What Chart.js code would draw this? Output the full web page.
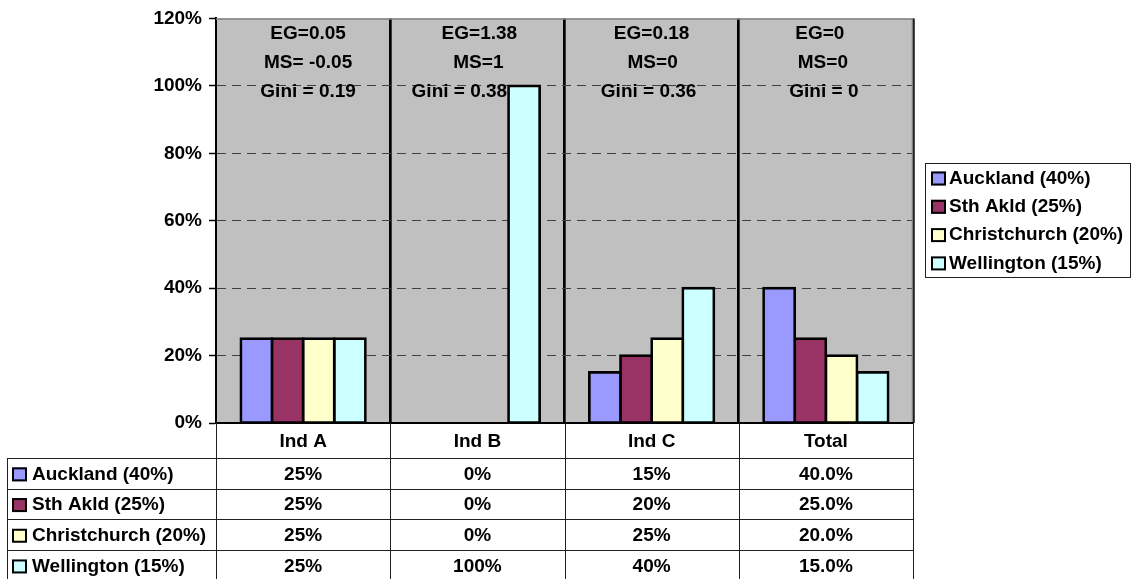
<!DOCTYPE html>
<html>
<head>
<meta charset="utf-8">
<script src="https://cdn.jsdelivr.net/npm/chart.js@4/dist/chart.umd.min.js"></script>
<style>
  html, body { margin: 0; padding: 0; background: #ffffff; }
  #wrap { width: 1132px; height: 579px; position: relative; }
</style>
</head>
<body>
<div id="wrap"><canvas id="c" width="1132" height="579"></canvas></div>
<script>
// Regional shares of employment by industry (percent)
const categories = ['Ind A', 'Ind B', 'Ind C', 'Total'];
const seriesNames = ['Auckland (40%)', 'Sth Akld (25%)', 'Christchurch (20%)', 'Wellington (15%)'];
const auckland = [25, 0, 15, 40];
const sthAkld = [25, 0, 20, 25];
const christchurch = [25, 0, 25, 20];
const wellington = [25, 100, 40, 15];

// Concentration measures shown above each industry
const egValues = [0.05, 1.38, 0.18, 0];
const msValues = [-0.05, 1, 0, 0];
const giniValues = [0.19, 0.38, 0.36, 0];

// Y-axis tick values (percent)
const yTicks = [0, 20, 40, 60, 80, 100, 120];

// Decimals used in the data table for each column
const tableDecimals = [0, 0, 0, 1];

const seriesColors = ['#9999FF', '#993366', '#FFFFCC', '#CCFFFF'];
const FONT = 'bold 19px "Liberation Sans", Arial, sans-serif';

function fmtEG(v) { return 'EG=' + v; }
function fmtMS(v) { return v < 0 ? 'MS= ' + v : 'MS=' + v; }
function fmtGini(v) { return 'Gini = ' + v; }

// small horizontal nudges of the text lines inside each category
const annoShift = [
  [5, 5, 5],
  [2, 1, -18],
  [0, 1, -3],
  [-6, -3, -2]
];

const seriesData = [auckland, sthAkld, christchurch, wellington];

const sheetPlugin = {
  id: 'sheet',
  beforeDraw(chart) {
    const { ctx, chartArea: a } = chart;
    ctx.save();
    ctx.fillStyle = '#C0C0C0';
    ctx.fillRect(a.left, a.top, a.right - a.left, a.bottom - a.top);
    ctx.restore();
  },
  afterDraw(chart) {
    const { ctx, chartArea: a } = chart;
    const xs = chart.scales.x;
    const n = categories.length;
    const colW = (a.right - a.left) / n;
    ctx.save();

    // plot frame: top and right in grey
    ctx.strokeStyle = '#808080';
    ctx.lineWidth = 1.5;
    ctx.beginPath();
    ctx.moveTo(a.left, a.top + 0.5);
    ctx.lineTo(a.right, a.top + 0.5);
    ctx.moveTo(a.right - 0.5, a.top);
    ctx.lineTo(a.right - 0.5, a.bottom);
    ctx.stroke();

    // category axis line
    ctx.strokeStyle = '#000';
    ctx.lineWidth = 2;
    ctx.beginPath();
    ctx.moveTo(a.left - 1, a.bottom);
    ctx.lineTo(a.right, a.bottom);
    ctx.stroke();

    // measures above each category
    ctx.font = FONT;
    ctx.fillStyle = '#000';
    ctx.textAlign = 'center';
    ctx.textBaseline = 'middle';
    const lineYs = [34, 62.5, 91.5];
    for (let i = 0; i < n; i++) {
      const cx = xs.getPixelForValue(i);
      const lines = [fmtEG(egValues[i]), fmtMS(msValues[i]), fmtGini(giniValues[i])];
      lines.forEach((t, k) => ctx.fillText(t, cx + annoShift[i][k], lineYs[k]));
    }

    // data table
    const headTop = a.bottom;
    const headBottom = 458;
    const rowH = 30.7;
    const tableLeft = 7;
    const rows = chart.data.datasets.length;
    ctx.strokeStyle = '#202020';
    ctx.lineWidth = 1;
    ctx.beginPath();
    // horizontal lines
    for (let r = 0; r <= rows; r++) {
      const y = Math.round(headBottom + r * rowH) + 0.5;
      ctx.moveTo(tableLeft, y);
      ctx.lineTo(a.right, y);
    }
    // vertical lines through header and body
    for (let i = 0; i <= n; i++) {
      const x = Math.round(a.left + i * colW) + 0.5;
      ctx.moveTo(x, headTop);
      ctx.lineTo(x, headBottom + rows * rowH);
    }
    ctx.moveTo(tableLeft + 0.5, headBottom);
    ctx.lineTo(tableLeft + 0.5, headBottom + rows * rowH);
    ctx.stroke();

    // header labels
    ctx.textAlign = 'center';
    for (let i = 0; i < n; i++) {
      ctx.fillText(chart.data.labels[i], xs.getPixelForValue(i), (headTop + headBottom) / 2 + 1);
    }

    // body rows
    chart.data.datasets.forEach((ds, r) => {
      const cy = headBottom + r * rowH + rowH / 2 + 1;
      // legend key
      drawKey(ctx, 12, cy - 7, ds.backgroundColor);
      ctx.textAlign = 'left';
      ctx.fillStyle = '#000';
      ctx.fillText(ds.label, 32, cy);
      ctx.textAlign = 'center';
      ds.data.forEach((v, i) => {
        ctx.fillText(v.toFixed(tableDecimals[i]) + '%', xs.getPixelForValue(i), cy);
      });
    });

    // legend box on the right
    const lg = { left: 925, top: 163, right: 1131, bottom: 277 };
    ctx.strokeStyle = '#202020';
    ctx.lineWidth = 1;
    ctx.strokeRect(lg.left + 0.5, lg.top + 0.5, lg.right - lg.left - 1, lg.bottom - lg.top);
    chart.data.datasets.forEach((ds, r) => {
      const cy = 178.5 + r * 28.3;
      drawKey(ctx, 931, cy - 7, ds.backgroundColor);
      ctx.textAlign = 'left';
      ctx.fillStyle = '#000';
      ctx.fillText(ds.label, 949, cy);
    });

    ctx.restore();
  }
};

function drawKey(ctx, x, y, color) {
  ctx.save();
  ctx.fillStyle = color;
  ctx.fillRect(x, y, 15, 14);
  ctx.strokeStyle = '#000';
  ctx.lineWidth = 2;
  ctx.strokeRect(x + 1, y + 1, 13, 12);
  ctx.restore();
}

new Chart(document.getElementById('c'), {
  type: 'bar',
  data: {
    labels: categories,
    datasets: seriesData.map((d, i) => ({
      label: seriesNames[i],
      data: d,
      backgroundColor: seriesColors[i],
      borderColor: '#000',
      borderWidth: 2.7,
      borderSkipped: false,
      inflateAmount: 1.35,
      categoryPercentage: 0.715,
      barPercentage: 1
    }))
  },
  options: {
    responsive: false,
    animation: false,
    devicePixelRatio: 1,
    layout: { padding: { left: 0, top: 15, right: 219, bottom: 156 } },
    plugins: {
      legend: { display: false },
      tooltip: { enabled: false }
    },
    scales: {
      x: {
        display: true,
        ticks: { display: false },
        grid: {
          offset: true,
          drawTicks: false,
          color: (c) => (c.index === 0 || c.index === categories.length) ? 'rgba(0,0,0,0)' : '#000',
          lineWidth: 2.7
        },
        border: { display: false },
        afterFit: (s) => { s.height = 0; }
      },
      y: {
        min: 0,
        max: 120,
        afterBuildTicks: (s) => { s.ticks = yTicks.map(v => ({ value: v })); },
        ticks: {
          callback: (v) => v + '%',
          font: { family: '"Liberation Sans", Arial, sans-serif', size: 19, weight: 'bold' },
          color: '#000',
          padding: 7
        },
        grid: {
          color: (c) => (c.tick && (c.tick.value === 0 || c.tick.value === 120)) ? 'rgba(0,0,0,0)' : '#404040',
          lineWidth: 1,
          tickLength: 7,
          tickColor: '#000',
          tickWidth: 1.5
        },
        border: { display: true, color: '#000', width: 2, dash: [9, 6] },
        afterFit: (s) => { s.width = 216; }
      }
    }
  },
  plugins: [sheetPlugin]
});
</script>
</body>
</html>
